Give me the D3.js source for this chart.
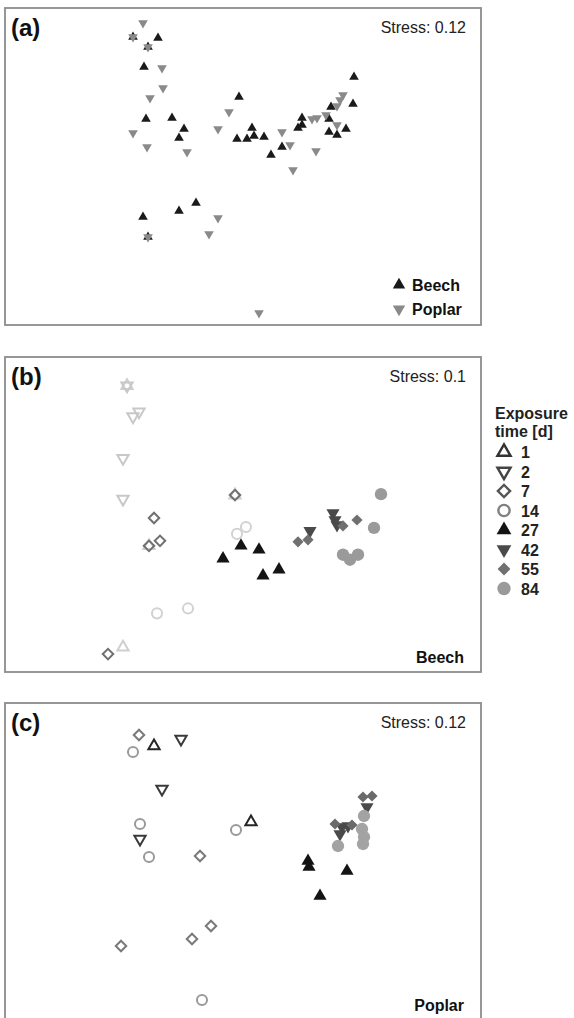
<!DOCTYPE html>
<html>
<head>
<meta charset="utf-8">
<script src="https://cdn.jsdelivr.net/npm/d3@7"></script>
<style>
  body { margin: 0; background: #fff; }
  svg { display: block; }
  text { font-family: "Liberation Sans", Arial, sans-serif; }
</style>
</head>
<body>
<svg id="chart" width="574" height="1018"></svg>
<script>
// NMDS scores (ordination units, no axes shown)
// panel (a): all samples, by wood species
const beechA = [
  [-0.85, 1.28], [-0.99, 0.99], [-0.04, 0.69], [-0.97, 0.47], [-0.71, 0.48],
  [-0.59, 0.37], [-0.64, 0.28], [0.09, 0.38], [-0.06, 0.27], [0.04, 0.27],
  [0.11, 0.30], [0.21, 0.29], [0.39, 0.19], [0.28, 0.11], [1.11, 0.89],
  [1.10, 0.62], [0.88, 0.59], [0.59, 0.48], [0.59, 0.41], [0.55, 0.38],
  [0.86, 0.47], [1.03, 0.37], [0.86, 0.34], [0.94, 0.31], [-1.00, -0.51],
  [-0.64, -0.45], [-0.47, -0.37], [-1.10, 1.29], [-0.95, 1.19], [-0.95, -0.71]
];
const poplarA = [
  [-1.00, 1.43], [-0.81, 0.98], [-0.80, 0.78], [-0.93, 0.68], [-0.14, 0.54],
  [-1.10, 0.33], [-0.25, 0.37], [-0.96, 0.19], [-0.56, 0.14], [0.39, 0.34],
  [0.47, 0.21], [1.00, 0.71], [0.97, 0.66], [0.94, 0.60], [0.83, 0.51],
  [0.74, 0.48], [0.69, 0.47], [0.94, 0.41], [0.73, 0.15], [0.50, -0.04],
  [-0.25, -0.52], [-0.34, -0.68], [0.16, -1.47],
  [-1.10, 1.29], [-0.95, 1.19], [-0.95, -0.71]
];

// panels (b) and (c): [NMDS1, NMDS2, exposure day]
const beechB = [
  [-1.16, 1.29, 1], [-0.08, 0.19, 1], [-0.94, -0.32, 1], [-1.20, -1.34, 1],
  [-1.16, 1.29, 2], [-1.04, 1.03, 2], [-1.10, 0.98, 2], [-1.20, 0.56, 2], [-1.20, 0.15, 2],
  [-0.08, 0.19, 7], [-0.89, -0.04, 7], [-0.94, -0.32, 7], [-0.83, -0.27, 7], [-1.35, -1.41, 7],
  [0.03, -0.13, 14], [-0.06, -0.20, 14], [-0.86, -1.00, 14], [-0.55, -0.95, 14],
  [-0.02, -0.32, 27], [0.16, -0.36, 27], [-0.20, -0.45, 27], [0.20, -0.62, 27], [0.36, -0.56, 27],
  [0.67, -0.17, 42], [0.90, 0.01, 42], [0.92, -0.06, 42], [0.94, -0.11, 42],
  [0.55, -0.28, 55], [0.65, -0.26, 55], [1.00, -0.12, 55], [1.14, -0.06, 55],
  [1.38, 0.20, 84], [1.31, -0.14, 84], [1.00, -0.41, 84], [1.07, -0.46, 84], [1.15, -0.41, 84]
];
const poplarC = [
  [-0.89, 1.15, 1], [0.08, 0.39, 1],
  [-0.62, 1.22, 2], [-0.81, 0.72, 2], [-1.03, 0.22, 2],
  [-1.04, 1.26, 7], [-0.43, 0.05, 7], [-0.32, -0.65, 7], [-0.51, -0.78, 7], [-1.22, -0.85, 7],
  [-1.10, 1.09, 14], [-1.03, 0.37, 14], [-0.94, 0.04, 14], [-0.07, 0.31, 14], [-0.41, -1.39, 14],
  [0.65, 0.00, 27], [0.66, -0.06, 27], [1.04, -0.10, 27], [0.77, -0.35, 27],
  [1.24, 0.54, 42], [0.99, 0.34, 42], [1.05, 0.35, 42], [0.97, 0.27, 42],
  [1.20, 0.64, 55], [1.29, 0.65, 55], [0.92, 0.37, 55], [1.09, 0.36, 55],
  [1.21, 0.45, 84], [1.19, 0.32, 84], [1.21, 0.24, 84], [0.95, 0.15, 84], [1.20, 0.17, 84]
];

const days = [1, 2, 7, 14, 27, 42, 55, 84];
const speciesLabels = ["Beech", "Poplar"];
const stressValues = ["0.12", "0.1", "0.12"];

const svg = d3.select("#chart");
const xDomain = [-2.38, 2.38];
const yDomain = [-1.59, 1.58];

const panels = [
  { id: "a", top: 8, h: 317 },
  { id: "b", top: 357, h: 315 },
  { id: "c", top: 703, h: 317 }
];
const left = 5, width = 476;

// shape / look per exposure day
const shapeOf = {
  1: { type: d3.symbolTriangle, rot: 0, fill: false },
  2: { type: d3.symbolTriangle, rot: 180, fill: false },
  7: { type: d3.symbolSquare, rot: 45, fill: false },
  14: { type: d3.symbolCircle, rot: 0, fill: false },
  27: { type: d3.symbolTriangle, rot: 0, fill: true },
  42: { type: d3.symbolTriangle, rot: 180, fill: true },
  55: { type: d3.symbolSquare, rot: 45, fill: true },
  84: { type: d3.symbolCircle, rot: 0, fill: true }
};
const sizeOf = { 1: 55, 2: 55, 7: 55, 14: 80, 27: 75, 42: 75, 55: 62, 84: 120 };
const colB = { 1: "#cfcfcf", 2: "#c8c8c8", 7: "#707070", 14: "#d2d2d2", 27: "#141414", 42: "#4a4a4a", 55: "#707070", 84: "#9a9a9a" };
const colC = { 1: "#262626", 2: "#3a3a3a", 7: "#7a7a7a", 14: "#9a9a9a", 27: "#141414", 42: "#4a4a4a", 55: "#6a6a6a", 84: "#a3a3a3" };
const colLegend = { 1: "#333", 2: "#444", 7: "#555", 14: "#808080", 27: "#141414", 42: "#4a4a4a", 55: "#707070", 84: "#9a9a9a" };

function sym(day, size) {
  return d3.symbol().type(shapeOf[day].type).size(size)();
}
function styleSym(sel, day, col, sw) {
  const s = shapeOf[day];
  sel.attr("fill", s.fill ? col : "#fff")
    .attr("fill-opacity", s.fill ? 1 : 0)
    .attr("stroke", s.fill ? "none" : col)
    .attr("stroke-width", s.fill ? 0 : (sw || 2));
}

panels.forEach((p, i) => {
  const g = svg.append("g");
  p.x = d3.scaleLinear().domain(xDomain).range([left, left + width]);
  p.y = d3.scaleLinear().domain(yDomain).range([p.top + p.h, p.top]);
  p.g = g;

  g.append("rect")
    .attr("x", left).attr("y", p.top)
    .attr("width", width).attr("height", p.h)
    .attr("fill", "#fff").attr("stroke", "#8c8c8c").attr("stroke-width", 1.8);

  g.append("text")
    .attr("x", 11).attr("y", p.top + 28)
    .attr("font-size", 24).attr("font-weight", "bold").attr("fill", "#111")
    .text("(" + p.id + ")");

  g.append("text")
    .attr("x", 466).attr("y", p.top + 25)
    .attr("text-anchor", "end").attr("font-size", 16).attr("fill", "#222")
    .text("Stress: " + stressValues[i]);
});

// ---- panel (a)
const pa = panels[0];
const triSmall = d3.symbol().type(d3.symbolTriangle).size(40)();
pa.g.selectAll("path.beech").data(beechA).join("path")
  .attr("class", "beech")
  .attr("d", triSmall)
  .attr("transform", d => `translate(${pa.x(d[0])},${pa.y(d[1])})`)
  .attr("fill", "#1a1a1a");
pa.g.selectAll("path.poplar").data(poplarA).join("path")
  .attr("class", "poplar")
  .attr("d", triSmall)
  .attr("transform", d => `translate(${pa.x(d[0])},${pa.y(d[1])}) rotate(180)`)
  .attr("fill", "#8a8a8a");

const legA = pa.g.append("g");
const triLeg = d3.symbol().type(d3.symbolTriangle).size(66)();
speciesLabels.forEach((lab, k) => {
  const cy = pa.top + pa.h - 40 + k * 24;
  legA.append("path").attr("d", triLeg)
    .attr("transform", `translate(399,${cy})` + (k ? " rotate(180)" : ""))
    .attr("fill", k ? "#8a8a8a" : "#1a1a1a");
  legA.append("text").attr("x", 412).attr("y", cy + 6)
    .attr("font-size", 16).attr("font-weight", "bold").attr("fill", "#111")
    .text(lab);
});

// ---- panels (b) and (c)
function drawTime(p, data, cols, label) {
  days.forEach(day => {
    const s = shapeOf[day];
    p.g.selectAll(null).data(data.filter(d => d[2] === day)).join("path")
      .attr("d", sym(day, sizeOf[day]))
      .attr("transform", d => `translate(${p.x(d[0])},${p.y(d[1])})` + (s.rot ? ` rotate(${s.rot})` : ""))
      .call(styleSym, day, cols[day]);
  });
  p.g.append("text")
    .attr("x", 464).attr("y", p.top + p.h - 9)
    .attr("text-anchor", "end").attr("font-size", 16).attr("font-weight", "bold").attr("fill", "#111")
    .text(label);
}
drawTime(panels[1], beechB, colB, speciesLabels[0]);
drawTime(panels[2], poplarC, colC, speciesLabels[1]);

// ---- legend for exposure time
const leg = svg.append("g").attr("transform", "translate(495,0)");
leg.append("text").attr("x", 0).attr("y", 419)
  .attr("font-size", 16).attr("font-weight", "bold").attr("fill", "#222").text("Exposure");
leg.append("text").attr("x", 0).attr("y", 437)
  .attr("font-size", 16).attr("font-weight", "bold").attr("fill", "#222").text("time [d]");
days.forEach((day, k) => {
  const cy = 452 + k * 19.5;
  const s = shapeOf[day];
  leg.append("path")
    .attr("d", sym(day, sizeOf[day] + 20))
    .attr("transform", `translate(9,${cy})` + (s.rot ? ` rotate(${s.rot})` : ""))
    .call(styleSym, day, colLegend[day], 2.4);
  leg.append("text").attr("x", 26).attr("y", cy + 6)
    .attr("font-size", 16).attr("font-weight", "bold").attr("fill", "#222")
    .text(day);
});
</script>
</body>
</html>
